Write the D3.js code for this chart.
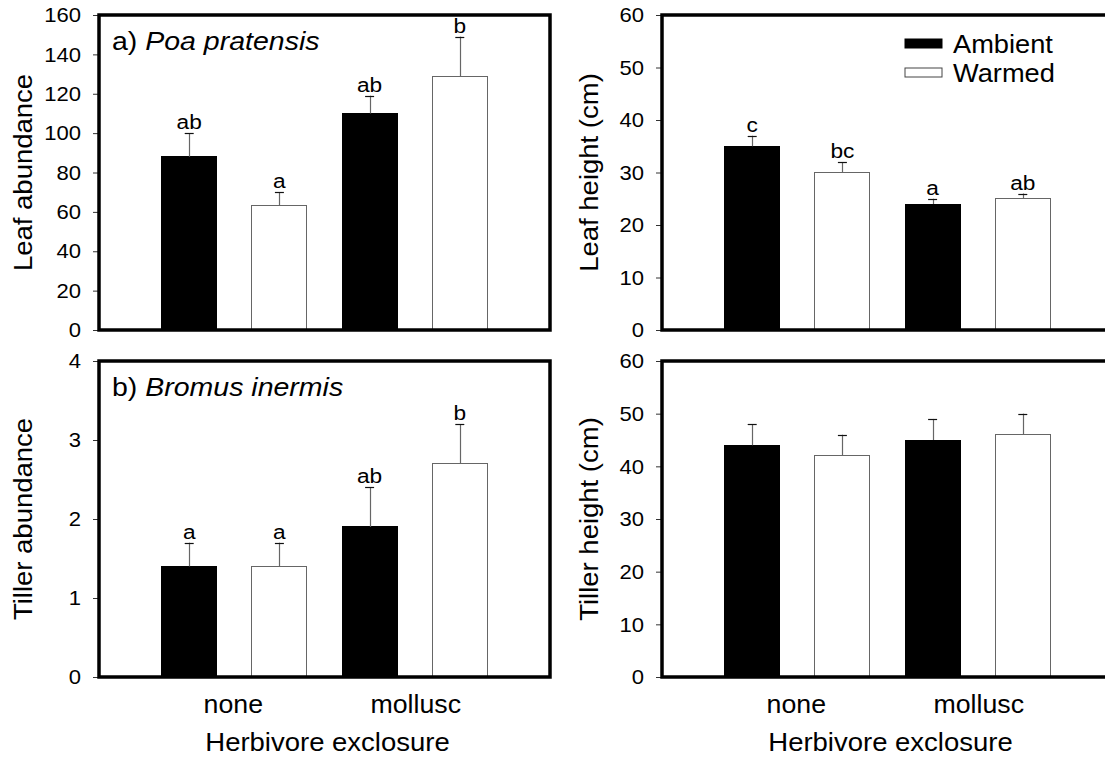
<!DOCTYPE html>
<html><head><meta charset="utf-8">
<script src="https://cdn.jsdelivr.net/npm/d3@7"></script>
<style>
html,body{margin:0;padding:0;background:#fff;overflow:hidden}
text{font-family:"Liberation Sans",Arial,sans-serif;fill:#000}
</style></head>
<body><svg id="c" width="1105" height="757"></svg>
<script>
const categories = ["none", "mollusc"];
const treatments = ["Ambient", "Warmed"];
// order: none-Ambient, none-Warmed, mollusc-Ambient, mollusc-Warmed
const leafAbundance = [88, 63, 110, 129];
const leafAbundanceErr = [12, 7, 9, 20];
const leafAbundanceLetters = ["ab", "a", "ab", "b"];
const leafHeight = [35, 30, 24, 25];
const leafHeightErr = [2, 2, 1, 1];
const leafHeightLetters = ["c", "bc", "a", "ab"];
const tillerAbundance = [1.4, 1.4, 1.9, 2.7];
const tillerAbundanceErr = [0.3, 0.3, 0.5, 0.5];
const tillerAbundanceLetters = ["a", "a", "ab", "b"];
const tillerHeight = [44, 42, 45, 46];
const tillerHeightErr = [4, 4, 4, 4];
const tillerHeightLetters = ["", "", "", ""];
const leafAbundanceTicks = [0, 20, 40, 60, 80, 100, 120, 140, 160];
const heightTicks = [0, 10, 20, 30, 40, 50, 60];
const tillerAbundanceTicks = [0, 1, 2, 3, 4];

const svg = d3.select("#c");
const SX = 1.1;

const panels = [
  {x0: 99, x1: 550, y0: 15, y1: 330, vals: leafAbundance, err: leafAbundanceErr, letters: leafAbundanceLetters,
   ticks: leafAbundanceTicks, max: 160, ylab: "Leaf abundance", ylabX: 23, tag: "a) ", sp: "Poa pratensis", xlab: false, legend: false},
  {x0: 662, x1: 1113, y0: 15, y1: 330, vals: leafHeight, err: leafHeightErr, letters: leafHeightLetters,
   ticks: heightTicks, max: 60, ylab: "Leaf height (cm)", ylabX: 589, tag: null, xlab: false, legend: true},
  {x0: 99, x1: 550, y0: 361, y1: 677, vals: tillerAbundance, err: tillerAbundanceErr, letters: tillerAbundanceLetters,
   ticks: tillerAbundanceTicks, max: 4, ylab: "Tiller abundance", ylabX: 23, tag: "b) ", sp: "Bromus inermis", xlab: true, legend: false},
  {x0: 662, x1: 1113, y0: 361, y1: 677, vals: tillerHeight, err: tillerHeightErr, letters: tillerHeightLetters,
   ticks: heightTicks, max: 60, ylab: "Tiller height (cm)", ylabX: 589, tag: null, xlab: true, legend: false}
];

const barW = 0.61;

function wideText(parent, x, y, size, anchor, str, sx) {
  return parent.append("text")
    .attr("transform", `translate(${x},${y}) scale(${sx || SX},1)`)
    .attr("text-anchor", anchor).attr("font-size", size).text(str);
}

panels.forEach(p => {
  const x = d3.scaleLinear().domain([0, 5]).range([p.x0, p.x1]);
  const y = d3.scaleLinear().domain([0, p.max]).range([p.y1, p.y0]);
  const g = svg.append("g");

  const data = p.vals.map((v, i) => ({v, e: p.err[i], l: p.letters[i], pos: i + 1, warm: i % 2 === 1}));

  // bars
  g.selectAll("rect.bar").data(data).join("rect")
    .attr("x", d => x(d.pos - barW / 2))
    .attr("width", d => x(d.pos + barW / 2) - x(d.pos - barW / 2))
    .attr("y", d => y(d.v))
    .attr("height", d => y(0) - y(d.v))
    .attr("fill", d => d.warm ? "#fff" : "#000")
    .attr("stroke", d => d.warm ? "#666" : "#000")
    .attr("stroke-width", 1)
    .attr("shape-rendering", "crispEdges");

  // error bars
  g.selectAll("line.eb").data(data).join("line")
    .attr("x1", d => Math.round(x(d.pos)) + 0.5).attr("x2", d => Math.round(x(d.pos)) + 0.5)
    .attr("y1", d => y(d.v)).attr("y2", d => y(d.v + d.e))
    .attr("stroke", "#666").attr("stroke-width", 1.2);
  g.selectAll("line.cap").data(data).join("line")
    .attr("x1", d => x(d.pos) - 4.5).attr("x2", d => x(d.pos) + 4.5)
    .attr("y1", d => Math.round(y(d.v + d.e)) + 0.5).attr("y2", d => Math.round(y(d.v + d.e)) + 0.5)
    .attr("stroke", "#111").attr("stroke-width", 1.2);

  // letters
  data.forEach(d => {
    if (d.l) wideText(g, x(d.pos), y(d.v + d.e) - 4, 21, "middle", d.l, 1.08);
  });

  // y axis ticks
  const ax = g.append("g").attr("transform", `translate(${p.x0 - 1},0)`)
    .call(d3.axisLeft(y).tickValues(p.ticks).tickSize(5).tickPadding(12).tickFormat(d3.format("d")));
  ax.select(".domain").remove();
  ax.selectAll(".tick line").attr("stroke", "#333");
  ax.selectAll(".tick text").attr("font-size", 21).attr("font-family", "Liberation Sans, Arial, sans-serif").attr("fill", "#000")
    .attr("transform", "translate(-17,0) scale(1.05,1) translate(17,0)");

  // frame
  g.append("rect").attr("x", p.x0).attr("y", p.y0)
    .attr("width", p.x1 - p.x0).attr("height", p.y1 - p.y0)
    .attr("fill", "none").attr("stroke", "#000").attr("stroke-width", 3.5);

  // y label
  g.append("text")
    .attr("transform", `translate(${p.ylabX + 9},${(p.y0 + p.y1) / 2}) rotate(-90) scale(${SX},1)`)
    .attr("text-anchor", "middle").attr("font-size", 25)
    .text(p.ylab);

  // panel tag
  if (p.tag) {
    const t = g.append("text")
      .attr("transform", `translate(${p.x0 + 13},${p.y0 + 35}) scale(1.14,1)`)
      .attr("font-size", 25);
    t.append("tspan").text(p.tag);
    t.append("tspan").attr("font-style", "italic").text(p.sp);
  }

  // x labels
  if (p.xlab) {
    categories.forEach((c, i) => wideText(g, x(i * 2 + 1.5) + (i ? 1 : -1), p.y1 + 36, 25, "middle", c, 1.07));
    wideText(g, (x(1.5) + x(3.5)) / 2 + 3, p.y1 + 74, 25, "middle", "Herbivore exclosure", SX);
  }

  // legend
  if (p.legend) {
    treatments.forEach((t, i) => {
      g.append("rect").attr("x", 905).attr("y", 39 + i * 29).attr("width", 37).attr("height", 9)
        .attr("fill", i ? "#fff" : "#000").attr("stroke", i ? "#444" : "#000").attr("stroke-width", 1);
      wideText(g, 953, 53 + i * 29, 25, "start", t, 1.09);
    });
  }
});
</script></body></html>
